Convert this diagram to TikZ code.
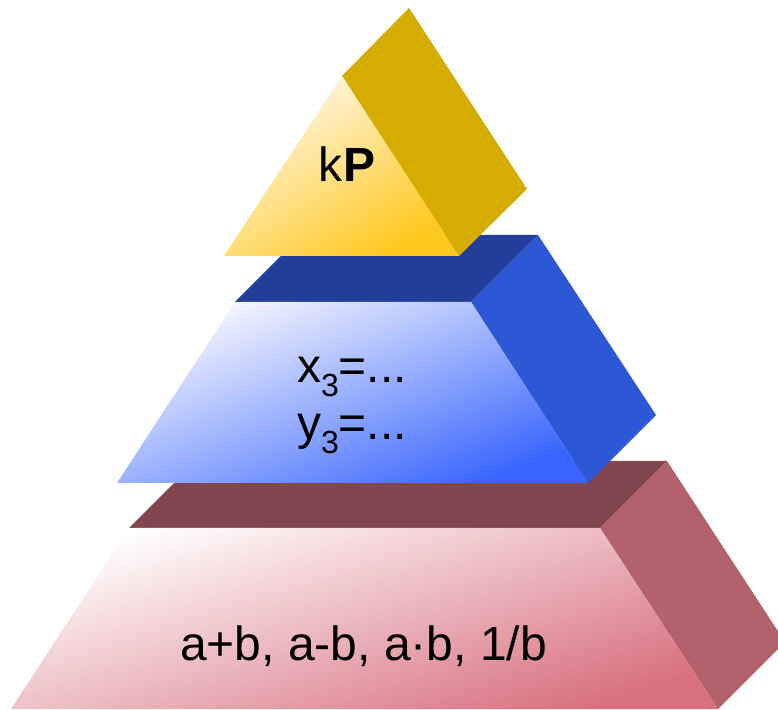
\documentclass[tikz,border=0pt]{standalone}
\usepackage{fontspec}
\setmainfont{Liberation Sans}
\definecolor{ylside}{HTML}{D4AD00}
\definecolor{ylight}{HTML}{FFF8EC}
\definecolor{ydark}{HTML}{FFC81E}
\definecolor{bltop}{HTML}{213E9A}
\definecolor{blside}{HTML}{2C58D5}
\definecolor{blight}{HTML}{F8F8FF}
\definecolor{bdark}{HTML}{3A66FF}
\definecolor{rdtop}{HTML}{82474E}
\definecolor{rdside}{HTML}{B3626B}
\definecolor{rlight}{HTML}{FFFFFF}
\definecolor{rdark}{HTML}{D8707E}
\tikzset{
  front/.style n args={3}{draw=none, top color=#1, bottom color=#2, shading angle=#3},
  label/.style={anchor=base, inner sep=0pt, font=\fontsize{48}{58}\selectfont}
}
\newcommand{\subthree}{\raisebox{-0.28em}{\fontsize{32}{32}\selectfont 3}}
\begin{document}
\begin{tikzpicture}[x=1pt,y=1pt]
\clip (0,0) rectangle (778,709);
\fill[white] (0,0) rectangle (778,709);
% red level
\fill[rdtop] (129,181) -- (196,248) -- (667,248) -- (600,181) -- cycle;
\fill[rdside] (600,181) -- (667,248) -- (785,67) -- (718,0) -- cycle;
\shade[front={rlight}{rdark}{18}] (129,181) -- (600,181) -- (718,0) -- (11,0) -- cycle;
% blue level
\fill[bltop] (235,407) -- (302,474) -- (538,474) -- (471,407) -- cycle;
\fill[blside] (471,407) -- (538,474) -- (656,294) -- (588,226) -- cycle;
\shade[front={blight}{bdark}{22}] (235,407) -- (471,407) -- (588,226) -- (117,226) -- cycle;
% yellow level
\fill[ylside] (342,633) -- (409,701) -- (527,520) -- (459,453) -- cycle;
\shade[front={ylight}{ydark}{32}] (342,633) -- (459,453) -- (224,453) -- cycle;
% texts
\node[label] (kp) at (347,527) {k\textbf{P}};
\node[label] (x3) at (352,326) {x\subthree=...};
\node[label] (y3) at (352,269) {y\subthree=...};
\node[label] (ops) at (363.5,49) {a+b, a-b, a·b, 1/b};
\end{tikzpicture}
\end{document}
